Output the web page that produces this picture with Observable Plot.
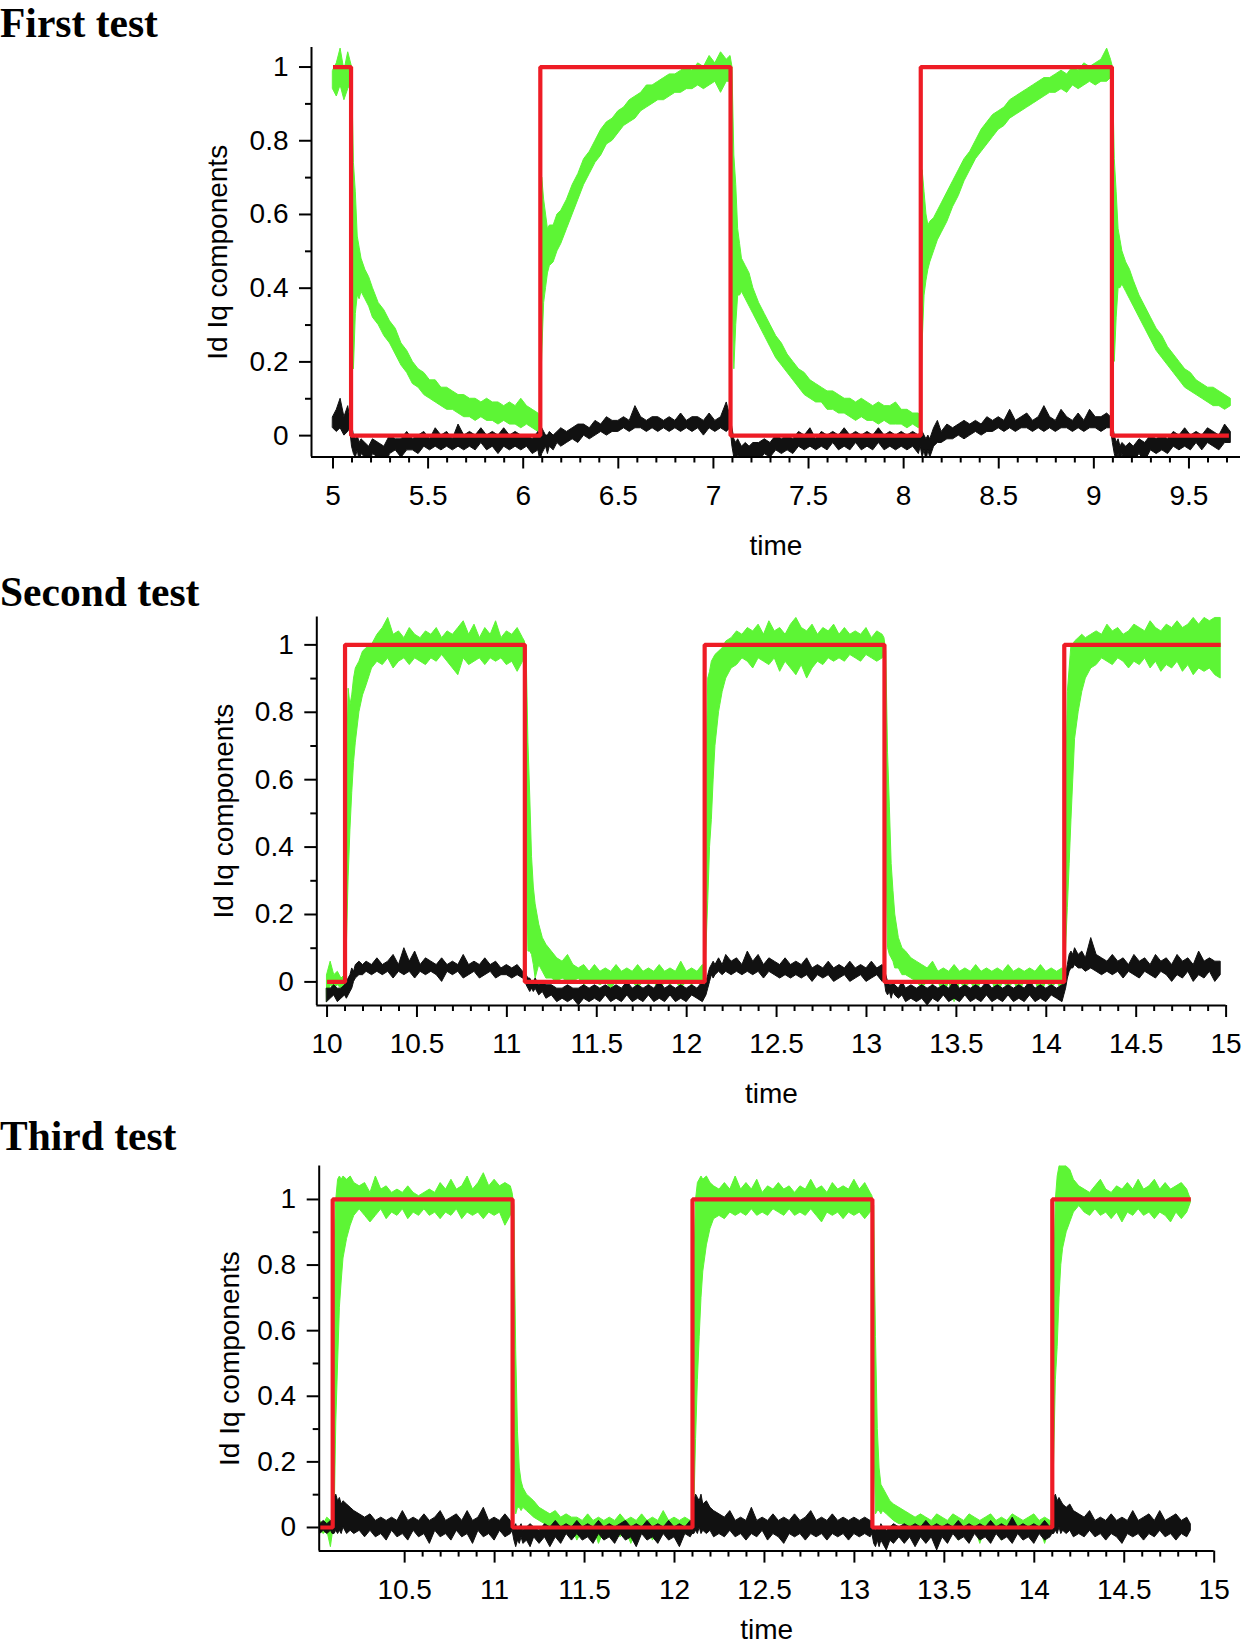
<!DOCTYPE html>
<html><head><meta charset="utf-8">
<script src="https://cdn.jsdelivr.net/npm/d3@7"></script>
<script src="https://cdn.jsdelivr.net/npm/@observablehq/plot@0.6"></script>
<style>
body{margin:0;background:#fff;}
#wrap{position:relative;width:1246px;height:1646px;overflow:hidden;background:#fff;}
.title{position:absolute;left:0;font-family:"Liberation Serif","Times New Roman",serif;font-weight:bold;font-size:41.5px;line-height:40px;white-space:nowrap;color:#000;}
</style></head><body><div id="wrap"></div>
<script>
// ---------- shared tick labels ----------
const yMajor = [0, 0.2, 0.4, 0.6, 0.8, 1];
const yMinor = [0.1, 0.3, 0.5, 0.7, 0.9];
const xMajor1 = [5, 5.5, 6, 6.5, 7, 7.5, 8, 8.5, 9, 9.5];
const xMajor2 = [10, 10.5, 11, 11.5, 12, 12.5, 13, 13.5, 14, 14.5, 15];
const xMajor3 = [10.5, 11, 11.5, 12, 12.5, 13, 13.5, 14, 14.5, 15];
const titles = ["First test", "Second test", "Third test"];

// ---------- First test ----------
const time1 = [
5.00,5.02,5.04,5.06,5.08,5.09,
5.10,5.11,5.12,5.13,5.14,5.15,5.17,5.19,5.21,
5.24,5.27,5.30,5.33,5.36,5.39,5.42,5.45,5.48,5.51,
5.54,5.57,5.60,5.63,5.66,5.69,5.72,5.75,5.78,5.81,
5.84,5.87,5.90,5.93,5.96,5.99,6.02,6.05,6.08,6.09,
6.10,6.11,6.12,6.13,6.14,6.16,6.18,6.20,6.23,6.26,
6.29,6.32,6.35,6.38,6.41,6.44,6.47,6.50,6.53,6.56,
6.59,6.62,6.65,6.68,6.71,6.74,6.77,6.80,6.83,6.86,
6.89,6.92,6.95,6.98,7.01,7.04,7.07,7.09,
7.10,7.11,7.12,7.13,7.14,7.15,7.17,7.19,7.21,
7.24,7.27,7.30,7.33,7.36,7.39,7.42,7.45,7.48,7.51,
7.54,7.57,7.60,7.63,7.66,7.69,7.72,7.75,7.78,7.81,
7.84,7.87,7.90,7.93,7.96,7.99,8.02,8.05,8.08,8.09,
8.10,8.11,8.12,8.13,8.14,8.16,8.18,8.20,8.23,8.26,
8.29,8.32,8.35,8.38,8.41,8.44,8.47,8.50,8.53,8.56,
8.59,8.62,8.65,8.68,8.71,8.74,8.77,8.80,8.83,8.86,
8.89,8.92,8.95,8.98,9.01,9.04,9.07,9.09,
9.10,9.11,9.12,9.13,9.14,9.15,9.17,9.19,9.21,
9.24,9.27,9.30,9.33,9.36,9.39,9.42,9.45,9.48,9.51,
9.54,9.57,9.60,9.63,9.66,9.69,9.72];
const iqLo1 = [
0.94,0.92,0.95,0.91,0.94,0.95,
0.42,0.18,0.33,0.38,0.37,0.39,0.37,0.35,0.32,
0.30,0.27,0.25,0.22,0.19,0.17,0.14,0.13,0.11,0.10,
0.09,0.08,0.07,0.07,0.06,0.05,0.05,0.04,0.05,0.04,
0.04,0.03,0.04,0.03,0.03,0.02,0.03,0.02,0.01,0.02,
0.22,0.36,0.40,0.44,0.46,0.47,0.50,0.52,0.56,0.60,
0.64,0.68,0.71,0.74,0.76,0.79,0.80,0.82,0.84,0.85,
0.86,0.88,0.89,0.90,0.91,0.91,0.92,0.93,0.93,0.94,
0.94,0.95,0.94,0.95,0.96,0.93,0.96,0.96,
0.40,0.18,0.30,0.38,0.38,0.39,0.37,0.35,0.33,
0.30,0.27,0.24,0.21,0.19,0.17,0.15,0.13,0.11,0.10,
0.09,0.09,0.07,0.07,0.06,0.06,0.05,0.04,0.05,0.04,
0.04,0.03,0.04,0.03,0.03,0.03,0.02,0.03,0.02,0.03,
0.25,0.38,0.42,0.45,0.47,0.50,0.53,0.55,0.58,0.62,
0.65,0.69,0.72,0.75,0.77,0.79,0.81,0.83,0.84,0.86,
0.87,0.88,0.89,0.90,0.91,0.92,0.93,0.93,0.94,0.93,
0.95,0.94,0.95,0.96,0.95,0.96,0.96,0.97,
0.45,0.20,0.32,0.40,0.40,0.41,0.39,0.37,0.35,
0.32,0.29,0.26,0.23,0.21,0.19,0.17,0.15,0.13,0.12,
0.11,0.10,0.09,0.08,0.08,0.07,0.08];
const iqHi1 = [
0.99,1.01,1.05,0.99,1.04,1.02,
1.00,0.74,0.66,0.54,0.51,0.48,0.45,0.43,0.40,
0.36,0.34,0.31,0.29,0.25,0.23,0.20,0.18,0.17,0.15,
0.15,0.13,0.13,0.12,0.11,0.11,0.10,0.10,0.09,0.10,
0.09,0.09,0.08,0.09,0.08,0.10,0.08,0.07,0.06,0.05,
0.70,0.64,0.60,0.56,0.57,0.57,0.60,0.61,0.64,0.68,
0.71,0.75,0.77,0.80,0.83,0.85,0.86,0.88,0.89,0.91,
0.92,0.93,0.95,0.95,0.96,0.97,0.98,0.98,0.99,1.00,
0.99,1.01,1.00,1.03,1.01,1.04,1.02,1.03,
1.00,0.76,0.68,0.56,0.52,0.48,0.46,0.44,0.40,
0.36,0.33,0.30,0.27,0.25,0.22,0.20,0.18,0.17,0.15,
0.14,0.13,0.12,0.12,0.11,0.10,0.10,0.09,0.10,0.09,
0.08,0.09,0.08,0.08,0.09,0.07,0.07,0.06,0.06,0.05,
0.72,0.66,0.60,0.57,0.58,0.59,0.61,0.63,0.66,0.69,
0.72,0.75,0.77,0.80,0.83,0.85,0.87,0.88,0.89,0.91,
0.92,0.93,0.94,0.95,0.96,0.97,0.97,0.98,0.99,0.98,
1.00,0.99,1.01,1.00,1.01,1.02,1.05,1.02,
1.00,0.75,0.66,0.56,0.53,0.50,0.47,0.45,0.42,
0.38,0.35,0.32,0.29,0.27,0.24,0.22,0.20,0.18,0.17,
0.15,0.14,0.13,0.13,0.12,0.11,0.10];
const idLo1 = [
0.02,0.01,0.02,0.00,0.01,0.02,
-0.03,-0.05,-0.06,-0.04,-0.07,-0.05,-0.06,-0.08,-0.05,
-0.06,-0.09,-0.05,-0.04,-0.06,-0.04,-0.04,-0.05,-0.03,-0.04,
-0.03,-0.04,-0.03,-0.04,-0.03,-0.04,-0.03,-0.04,-0.02,-0.04,
-0.03,-0.05,-0.03,-0.04,-0.03,-0.04,-0.03,-0.05,-0.04,-0.07,
-0.05,-0.04,-0.03,-0.05,-0.03,-0.04,-0.02,-0.03,-0.02,-0.01,
-0.02,0.00,-0.01,0.00,0.01,0.00,0.01,0.01,0.02,0.01,
0.02,0.02,0.01,0.02,0.01,0.02,0.01,0.02,0.01,0.02,
0.01,0.02,0.00,0.02,0.01,0.02,0.01,0.02,
-0.03,-0.06,-0.08,-0.05,-0.07,-0.09,-0.06,-0.08,-0.06,
-0.07,-0.05,-0.06,-0.04,-0.05,-0.04,-0.05,-0.03,-0.04,-0.03,
-0.04,-0.03,-0.04,-0.02,-0.04,-0.03,-0.04,-0.02,-0.04,-0.03,
-0.04,-0.02,-0.04,-0.03,-0.04,-0.03,-0.04,-0.03,-0.05,-0.03,
-0.06,-0.04,-0.07,-0.04,-0.06,-0.03,-0.02,-0.02,-0.01,-0.01,
0.00,-0.01,0.00,0.01,0.00,0.01,0.01,0.02,0.01,0.02,
0.01,0.02,0.02,0.01,0.02,0.01,0.02,0.01,0.02,0.02,
0.01,0.02,0.01,0.02,0.02,0.01,0.02,0.02,
-0.02,-0.05,-0.07,-0.05,-0.07,-0.05,-0.08,-0.06,-0.07,
-0.05,-0.07,-0.04,-0.05,-0.04,-0.05,-0.03,-0.04,-0.03,-0.04,
-0.02,-0.04,-0.02,-0.03,-0.04,-0.02,-0.02];
const idHi1 = [
0.05,0.07,0.10,0.05,0.08,0.05,
0.03,0.00,-0.01,0.00,-0.02,-0.01,-0.02,-0.03,-0.01,
-0.02,-0.03,0.00,-0.01,-0.01,0.01,-0.01,0.00,0.01,-0.01,
0.02,0.00,0.01,-0.01,0.03,0.00,0.01,0.00,0.02,0.00,
0.01,0.00,0.02,0.00,0.01,0.00,0.00,-0.01,0.01,0.00,
0.02,0.01,0.00,0.00,0.01,0.00,0.01,0.02,0.01,0.02,
0.03,0.03,0.02,0.04,0.03,0.05,0.04,0.04,0.05,0.04,
0.08,0.05,0.04,0.05,0.05,0.04,0.05,0.04,0.06,0.04,
0.05,0.05,0.04,0.06,0.04,0.05,0.09,0.05,
0.02,-0.01,-0.02,-0.01,-0.02,-0.03,-0.02,-0.03,-0.02,
-0.02,-0.01,-0.02,0.00,-0.01,0.00,-0.01,0.01,0.00,0.02,
-0.01,0.01,0.00,0.01,0.00,0.02,0.00,0.01,0.00,0.01,
0.00,0.02,0.00,0.01,0.00,0.01,0.00,0.01,0.00,0.01,
0.01,0.00,-0.01,0.00,-0.01,0.02,0.04,0.01,0.03,0.02,
0.03,0.04,0.03,0.04,0.03,0.05,0.04,0.05,0.04,0.07,
0.04,0.05,0.06,0.04,0.05,0.08,0.05,0.04,0.07,0.05,
0.04,0.06,0.04,0.07,0.05,0.05,0.06,0.05,
0.03,0.00,-0.02,-0.01,-0.03,-0.02,-0.03,-0.02,-0.03,
-0.01,-0.02,0.00,-0.01,0.00,-0.01,0.01,0.00,0.02,0.00,
0.01,0.00,0.02,0.01,0.00,0.03,0.01];
const refT1 = [5.0, 5.095, 6.09, 7.09, 8.09, 9.095, 9.71];
const refY1 = [1, 0, 1, 0, 1, 0, 0];

// ---------- Second test ----------
const time2 = [
10.00,10.02,10.04,10.06,10.08,10.10,
10.11,10.12,10.13,10.14,10.15,10.16,10.18,10.20,10.22,10.25,
10.28,10.31,10.34,10.37,10.40,10.43,10.46,10.49,10.52,10.55,
10.58,10.61,10.64,10.67,10.70,10.73,10.76,10.79,10.82,10.85,
10.88,10.91,10.94,10.97,11.00,11.03,11.06,11.09,11.10,
11.11,11.12,11.13,11.14,11.15,11.16,11.18,11.20,11.22,11.25,
11.28,11.31,11.34,11.37,11.40,11.43,11.46,11.49,11.52,11.55,
11.58,11.61,11.64,11.67,11.70,11.73,11.76,11.79,11.82,11.85,
11.88,11.91,11.94,11.97,12.00,12.03,12.06,12.09,12.10,
12.11,12.12,12.13,12.14,12.15,12.16,12.18,12.20,12.22,12.25,
12.28,12.31,12.34,12.37,12.40,12.43,12.46,12.49,12.52,12.55,
12.58,12.61,12.64,12.67,12.70,12.73,12.76,12.79,12.82,12.85,
12.88,12.91,12.94,12.97,13.00,13.03,13.06,13.09,13.10,
13.11,13.12,13.13,13.14,13.15,13.16,13.18,13.20,13.22,13.25,
13.28,13.31,13.34,13.37,13.40,13.43,13.46,13.49,13.52,13.55,
13.58,13.61,13.64,13.67,13.70,13.73,13.76,13.79,13.82,13.85,
13.88,13.91,13.94,13.97,14.00,14.03,14.06,14.09,14.10,
14.11,14.12,14.13,14.14,14.15,14.16,14.18,14.20,14.22,14.25,
14.28,14.31,14.34,14.37,14.40,14.43,14.46,14.49,14.52,14.55,
14.58,14.61,14.64,14.67,14.70,14.73,14.76,14.79,14.82,14.85,
14.88,14.91,14.94,14.97];
const iqLo2 = [
-0.06,-0.01,-0.02,-0.01,-0.02,-0.01,
0.10,0.31,0.45,0.56,0.65,0.71,0.80,0.85,0.88,0.93,
0.95,0.94,0.96,0.93,0.95,0.96,0.94,0.96,0.95,0.94,
0.96,0.95,0.97,0.95,0.93,0.91,0.96,0.94,0.95,0.96,
0.94,0.96,0.95,0.96,0.94,0.95,0.92,0.95,0.96,
0.40,0.09,0.09,0.08,0.05,0.01,0.05,0.03,0.01,0.01,
0.00,0.01,0.00,0.00,0.01,-0.01,0.00,0.00,-0.01,0.00,
-0.02,0.00,0.00,-0.01,0.00,-0.02,0.00,-0.01,0.00,-0.03,
0.00,-0.01,0.00,-0.02,0.00,-0.01,0.00,-0.01,0.00,
0.10,0.24,0.40,0.48,0.60,0.70,0.80,0.86,0.90,0.93,
0.94,0.96,0.95,0.93,0.96,0.95,0.94,0.96,0.92,0.95,
0.93,0.91,0.94,0.90,0.93,0.95,0.94,0.96,0.95,0.96,
0.95,0.97,0.96,0.95,0.97,0.96,0.95,0.96,0.97,
0.40,0.10,0.08,0.07,0.06,0.04,0.04,0.02,0.02,0.01,
0.00,-0.02,0.00,-0.01,0.00,-0.04,0.00,-0.06,0.00,-0.02,
0.00,-0.03,0.00,-0.01,0.00,-0.04,0.00,-0.02,0.00,-0.03,
0.00,-0.02,0.00,-0.04,0.00,-0.02,0.00,-0.03,0.00,
0.10,0.22,0.35,0.48,0.60,0.72,0.80,0.86,0.90,0.93,
0.94,0.96,0.95,0.94,0.96,0.95,0.93,0.95,0.94,0.96,
0.93,0.95,0.92,0.94,0.93,0.95,0.92,0.94,0.91,0.93,
0.92,0.93,0.91,0.90];
const iqHi2 = [
0.02,0.06,0.02,0.03,0.01,0.02,
0.60,0.87,0.82,0.85,0.90,0.93,0.95,0.98,0.99,1.00,
1.03,1.05,1.08,1.03,1.04,1.02,1.05,1.03,1.02,1.04,
1.03,1.05,1.02,1.04,1.03,1.05,1.07,1.03,1.06,1.02,
1.05,1.03,1.07,1.02,1.04,1.03,1.05,1.02,1.01,
0.98,0.71,0.55,0.37,0.28,0.23,0.17,0.13,0.11,0.09,
0.07,0.06,0.08,0.05,0.04,0.05,0.03,0.05,0.03,0.04,
0.03,0.05,0.03,0.04,0.03,0.05,0.03,0.04,0.03,0.05,
0.03,0.04,0.03,0.06,0.03,0.04,0.03,0.05,0.03,
0.62,0.90,0.92,0.95,0.96,0.97,0.98,0.99,1.01,1.02,
1.04,1.03,1.05,1.04,1.06,1.03,1.07,1.04,1.05,1.03,
1.06,1.08,1.05,1.04,1.06,1.03,1.05,1.04,1.06,1.03,
1.05,1.03,1.04,1.03,1.05,1.02,1.04,1.03,1.02,
0.98,0.68,0.52,0.35,0.27,0.20,0.13,0.10,0.09,0.07,
0.06,0.05,0.04,0.06,0.03,0.04,0.03,0.05,0.03,0.04,
0.03,0.05,0.03,0.04,0.03,0.04,0.03,0.05,0.03,0.04,
0.03,0.04,0.03,0.05,0.03,0.04,0.03,0.04,0.03,
0.55,0.86,0.93,1.00,1.00,1.01,1.02,1.03,1.02,1.03,
1.04,1.03,1.06,1.04,1.05,1.03,1.04,1.06,1.05,1.04,
1.07,1.05,1.04,1.06,1.05,1.07,1.05,1.06,1.08,1.06,
1.08,1.07,1.08,1.08];
const idLo2 = [
-0.06,-0.05,-0.04,-0.06,-0.05,-0.04,
-0.05,-0.04,-0.03,-0.02,0.00,0.01,0.02,0.02,0.03,0.02,
0.03,0.02,0.03,0.01,0.03,0.02,0.03,0.01,0.03,0.02,
0.03,0.02,0.00,0.03,0.02,0.03,0.01,0.02,0.03,0.01,
0.02,0.03,0.01,0.02,0.02,0.01,0.02,0.01,0.01,
-0.01,-0.02,-0.03,-0.02,-0.03,-0.02,-0.04,-0.03,-0.05,-0.04,
-0.06,-0.05,-0.06,-0.05,-0.07,-0.05,-0.06,-0.05,-0.06,-0.04,
-0.06,-0.05,-0.06,-0.04,-0.06,-0.05,-0.06,-0.04,-0.06,-0.05,
-0.06,-0.04,-0.06,-0.05,-0.06,-0.04,-0.05,-0.06,-0.05,
-0.04,-0.02,0.00,0.02,0.01,0.02,0.03,0.02,0.03,0.02,
0.03,0.02,0.03,0.02,0.03,0.01,0.03,0.02,0.01,0.02,
0.01,0.02,0.01,0.02,0.00,0.02,0.01,0.02,0.00,0.01,
0.02,0.00,0.01,0.02,0.00,0.01,0.02,0.00,0.01,
-0.03,-0.04,-0.03,-0.05,-0.03,-0.04,-0.05,-0.04,-0.06,-0.05,
-0.06,-0.05,-0.07,-0.05,-0.06,-0.04,-0.06,-0.05,-0.06,-0.04,
-0.06,-0.05,-0.06,-0.04,-0.06,-0.05,-0.06,-0.04,-0.06,-0.05,
-0.06,-0.04,-0.06,-0.05,-0.06,-0.04,-0.05,-0.06,-0.04,
-0.02,0.01,0.03,0.04,0.04,0.05,0.04,0.04,0.03,0.04,
0.03,0.02,0.03,0.02,0.03,0.01,0.03,0.02,0.01,0.03,
0.02,0.01,0.03,0.02,0.00,0.02,0.01,0.03,0.00,0.02,
0.01,0.03,0.00,0.02];
const idHi2 = [
-0.02,-0.02,-0.01,-0.02,-0.02,-0.01,
0.00,0.01,0.02,0.04,0.03,0.05,0.06,0.05,0.06,0.05,
0.07,0.05,0.06,0.08,0.05,0.10,0.06,0.09,0.05,0.07,
0.06,0.05,0.07,0.05,0.06,0.05,0.08,0.05,0.06,0.05,
0.07,0.05,0.06,0.04,0.05,0.04,0.05,0.03,0.03,
0.02,0.01,0.01,0.00,0.00,0.01,-0.01,0.00,-0.01,-0.01,
-0.02,-0.02,-0.01,-0.02,-0.02,-0.01,-0.02,-0.01,-0.02,-0.01,
-0.02,-0.01,-0.02,0.00,-0.02,-0.01,-0.02,-0.01,-0.02,0.00,
-0.02,-0.01,-0.02,-0.01,-0.02,-0.01,-0.02,0.00,-0.01,
0.00,0.02,0.04,0.05,0.06,0.05,0.07,0.05,0.08,0.06,
0.07,0.05,0.09,0.06,0.08,0.05,0.07,0.06,0.05,0.07,
0.05,0.06,0.05,0.07,0.04,0.05,0.04,0.06,0.04,0.05,
0.04,0.06,0.04,0.05,0.04,0.06,0.04,0.05,0.04,
0.02,0.00,-0.01,-0.01,0.00,-0.01,-0.02,0.00,-0.02,-0.01,
-0.02,-0.01,-0.02,-0.01,-0.02,-0.01,-0.02,0.00,-0.02,-0.01,
-0.02,-0.01,-0.02,0.00,-0.02,-0.01,-0.02,-0.01,-0.02,-0.01,
-0.02,0.00,-0.02,-0.01,-0.02,-0.01,-0.02,-0.01,-0.01,
0.02,0.05,0.08,0.09,0.08,0.10,0.08,0.09,0.07,0.13,
0.08,0.07,0.06,0.08,0.06,0.07,0.05,0.08,0.06,0.07,
0.05,0.08,0.06,0.07,0.05,0.08,0.06,0.07,0.05,0.09,
0.06,0.07,0.06,0.06];
const refT2 = [10.0, 10.1, 11.1, 12.1, 13.1, 14.1, 14.97];
const refY2 = [0, 1, 0, 1, 0, 1, 1];

// ---------- Third test ----------
const time3 = [
10.03,10.05,10.07,10.09,10.10,
10.11,10.12,10.13,10.14,10.15,10.16,10.18,10.20,10.22,10.25,
10.28,10.31,10.34,10.37,10.40,10.43,10.46,10.49,10.52,10.55,
10.58,10.61,10.64,10.67,10.70,10.73,10.76,10.79,10.82,10.85,
10.88,10.91,10.94,10.97,11.00,11.03,11.06,11.09,11.10,
11.11,11.12,11.13,11.14,11.15,11.16,11.18,11.20,11.22,11.25,
11.28,11.31,11.34,11.37,11.40,11.43,11.46,11.49,11.52,11.55,
11.58,11.61,11.64,11.67,11.70,11.73,11.76,11.79,11.82,11.85,
11.88,11.91,11.94,11.97,12.00,12.03,12.06,12.09,12.10,
12.11,12.12,12.13,12.14,12.15,12.16,12.18,12.20,12.22,12.25,
12.28,12.31,12.34,12.37,12.40,12.43,12.46,12.49,12.52,12.55,
12.58,12.61,12.64,12.67,12.70,12.73,12.76,12.79,12.82,12.85,
12.88,12.91,12.94,12.97,13.00,13.03,13.06,13.09,13.10,
13.11,13.12,13.13,13.14,13.15,13.16,13.18,13.20,13.22,13.25,
13.28,13.31,13.34,13.37,13.40,13.43,13.46,13.49,13.52,13.55,
13.58,13.61,13.64,13.67,13.70,13.73,13.76,13.79,13.82,13.85,
13.88,13.91,13.94,13.97,14.00,14.03,14.06,14.09,14.10,
14.11,14.12,14.13,14.14,14.15,14.16,14.18,14.20,14.22,14.25,
14.28,14.31,14.34,14.37,14.40,14.43,14.46,14.49,14.52,14.55,
14.58,14.61,14.64,14.67,14.70,14.73,14.76,14.79,14.82,14.85,
14.87];
const iqLo3 = [
-0.01,-0.02,-0.01,-0.06,-0.02,
0.00,0.32,0.50,0.67,0.75,0.82,0.88,0.92,0.95,0.97,
0.95,0.93,0.95,0.97,0.94,0.96,0.95,0.97,0.94,0.96,
0.95,0.97,0.95,0.96,0.94,0.96,0.95,0.97,0.94,0.96,
0.95,0.96,0.94,0.96,0.95,0.96,0.92,0.95,0.96,
0.30,0.04,0.06,0.06,0.05,0.06,0.05,0.04,0.03,0.02,
0.01,0.00,-0.01,0.00,-0.02,0.00,-0.04,-0.01,-0.02,0.00,
-0.05,-0.01,-0.02,0.00,-0.03,-0.01,-0.05,-0.01,-0.02,0.00,
-0.04,-0.01,-0.02,0.00,-0.03,-0.01,-0.02,-0.01,0.00,
0.05,0.27,0.45,0.58,0.70,0.78,0.86,0.91,0.94,0.95,
0.94,0.96,0.95,0.96,0.95,0.97,0.95,0.96,0.95,0.97,
0.96,0.95,0.97,0.95,0.96,0.95,0.97,0.95,0.93,0.96,
0.95,0.96,0.94,0.96,0.95,0.96,0.94,0.96,0.97,
0.30,0.04,0.05,0.05,0.04,0.05,0.04,0.03,0.02,0.01,
0.01,-0.01,0.00,-0.03,0.00,-0.01,-0.06,0.00,-0.02,0.00,
-0.04,0.00,-0.02,0.00,-0.05,0.00,-0.02,0.00,-0.04,0.00,
-0.02,0.00,-0.03,0.00,-0.02,0.00,-0.05,0.00,0.00,
0.20,0.45,0.55,0.70,0.80,0.85,0.90,0.93,0.96,0.98,
0.96,0.95,0.97,0.95,0.96,0.94,0.96,0.93,0.96,0.95,
0.97,0.95,0.96,0.94,0.96,0.95,0.93,0.96,0.94,0.96,
0.99];
const iqHi3 = [
0.02,0.01,0.03,0.02,0.01,
0.85,1.00,1.06,1.07,1.06,1.07,1.06,1.07,1.05,1.04,
1.05,1.02,1.07,1.03,1.04,1.02,1.03,1.02,1.04,1.02,
1.01,1.02,1.03,1.02,1.05,1.03,1.06,1.03,1.04,1.07,
1.03,1.05,1.08,1.04,1.06,1.04,1.05,1.04,1.02,
0.98,0.54,0.29,0.18,0.14,0.12,0.10,0.09,0.08,0.06,
0.05,0.04,0.05,0.03,0.04,0.03,0.03,0.02,0.04,0.02,
0.03,0.02,0.03,0.02,0.04,0.02,0.03,0.02,0.04,0.02,
0.03,0.02,0.05,0.02,0.03,0.02,0.03,0.02,0.02,
0.80,1.00,1.05,1.06,1.07,1.06,1.07,1.05,1.04,1.03,
1.05,1.03,1.07,1.03,1.05,1.03,1.06,1.02,1.04,1.03,
1.05,1.03,1.04,1.02,1.04,1.03,1.06,1.03,1.04,1.02,
1.05,1.03,1.04,1.03,1.06,1.03,1.05,1.02,1.01,
0.98,0.58,0.30,0.18,0.13,0.12,0.10,0.08,0.07,0.06,
0.05,0.04,0.03,0.04,0.03,0.02,0.04,0.03,0.02,0.04,
0.03,0.02,0.04,0.03,0.02,0.03,0.04,0.02,0.03,0.02,
0.04,0.03,0.02,0.03,0.04,0.02,0.03,0.02,0.02,
0.75,1.00,1.07,1.10,1.11,1.11,1.10,1.09,1.06,1.04,
1.03,1.02,1.04,1.06,1.03,1.02,1.04,1.03,1.05,1.03,
1.06,1.03,1.04,1.06,1.03,1.05,1.03,1.04,1.05,1.03,
1.00];
const idLo3 = [
-0.02,-0.01,-0.02,-0.01,-0.02,
-0.02,-0.01,-0.02,-0.01,-0.02,0.00,-0.02,-0.01,-0.02,-0.01,
-0.03,-0.01,-0.03,-0.02,-0.04,-0.01,-0.03,-0.02,-0.04,-0.01,
-0.03,-0.02,-0.05,-0.01,-0.03,-0.02,-0.04,-0.01,-0.03,-0.02,
-0.05,-0.01,-0.03,-0.02,-0.04,-0.01,-0.03,-0.02,-0.01,
-0.04,-0.06,-0.04,-0.05,-0.03,-0.05,-0.04,-0.06,-0.03,-0.05,
-0.03,-0.06,-0.03,-0.05,-0.02,-0.04,-0.02,-0.04,-0.03,-0.05,
-0.02,-0.04,-0.03,-0.05,-0.02,-0.04,-0.03,-0.06,-0.02,-0.04,
-0.03,-0.05,-0.02,-0.04,-0.03,-0.06,-0.02,-0.03,-0.02,
-0.02,-0.01,-0.02,0.00,-0.02,-0.01,-0.02,-0.01,-0.03,-0.02,
-0.03,-0.01,-0.03,-0.02,-0.04,-0.02,-0.03,-0.01,-0.04,-0.02,
-0.03,-0.05,-0.02,-0.03,-0.02,-0.04,-0.02,-0.03,-0.02,-0.04,
-0.02,-0.03,-0.02,-0.04,-0.02,-0.03,-0.02,-0.03,-0.02,
-0.05,-0.06,-0.04,-0.06,-0.04,-0.05,-0.07,-0.04,-0.05,-0.03,
-0.05,-0.03,-0.06,-0.03,-0.05,-0.03,-0.07,-0.03,-0.05,-0.02,
-0.04,-0.03,-0.05,-0.02,-0.04,-0.03,-0.05,-0.02,-0.04,-0.03,
-0.05,-0.02,-0.04,-0.03,-0.05,-0.02,-0.04,-0.03,-0.02,
-0.02,-0.01,-0.02,0.00,-0.02,-0.01,-0.02,-0.01,-0.03,-0.02,
-0.03,-0.01,-0.03,-0.02,-0.04,-0.02,-0.03,-0.05,-0.02,-0.03,
-0.02,-0.04,-0.02,-0.03,-0.01,-0.03,-0.02,-0.04,-0.02,-0.03,
-0.01];
const idHi3 = [
0.01,0.02,0.01,0.02,0.01,
0.09,0.10,0.08,0.09,0.07,0.08,0.07,0.06,0.05,0.04,
0.03,0.04,0.02,0.03,0.02,0.03,0.02,0.05,0.02,0.03,
0.02,0.04,0.02,0.03,0.05,0.02,0.03,0.04,0.02,0.05,
0.02,0.03,0.06,0.02,0.03,0.02,0.04,0.02,0.01,
0.00,0.01,-0.01,0.00,0.01,-0.01,0.00,0.01,0.00,-0.01,
0.01,0.00,0.02,0.00,0.01,0.00,0.02,0.00,0.01,0.00,
0.02,0.00,0.01,0.00,0.01,0.02,0.00,0.01,0.00,0.02,
0.00,0.01,0.00,0.02,0.00,0.01,0.00,0.02,0.01,
0.08,0.10,0.09,0.08,0.10,0.07,0.08,0.06,0.05,0.04,
0.03,0.05,0.02,0.03,0.02,0.06,0.02,0.03,0.02,0.04,
0.02,0.03,0.02,0.04,0.02,0.03,0.05,0.02,0.03,0.02,
0.04,0.02,0.03,0.02,0.03,0.02,0.03,0.02,0.02,
0.00,-0.01,0.00,-0.01,0.01,0.00,-0.01,0.00,0.01,0.00,
0.01,0.00,0.01,0.00,0.02,0.00,0.01,0.00,0.01,0.00,
0.02,0.00,0.01,0.00,0.01,0.00,0.02,0.00,0.01,0.00,
0.03,0.00,0.01,0.00,0.01,0.00,0.02,0.00,0.01,
0.09,0.10,0.08,0.09,0.08,0.07,0.06,0.07,0.05,0.04,
0.03,0.05,0.02,0.03,0.02,0.04,0.02,0.03,0.02,0.05,
0.02,0.03,0.04,0.02,0.05,0.02,0.03,0.04,0.02,0.03,
0.01];
const refT3 = [10.03, 10.1, 11.1, 12.1, 13.1, 14.1, 14.87];
const refY3 = [0, 1, 0, 1, 0, 1, 1];

// ---------- drawing ----------
const GREEN = "#5df535";
const RED = "#ee1c25";
const INK = "#111111";
const FS = 28;

const panels = [
  {title: titles[0], titleTop: 3, top: 0, height: 560, mt: 47, mb: 103.5, ml: 311, mr: 6,
   xd: [4.887, 9.771], yd: [-0.058, 1.053], xMajor: xMajor1, minorFrom: 51, minorTo: 97,
   yLabDx: -93.5, xLabDy: 89,
   t: time1, gLo: iqLo1, gHi: iqHi1, kLo: idLo1, kHi: idHi1, rT: refT1, rY: refY1},
  {title: titles[1], titleTop: 572, top: 560, height: 560, mt: 56.4, mb: 115, ml: 316.3, mr: 20.4,
   xd: [9.943, 15], yd: [-0.070, 1.083], xMajor: xMajor2, minorFrom: 101, minorTo: 149,
   yLabDx: -93, xLabDy: 89,
   t: time2, gLo: iqLo2, gHi: iqHi2, kLo: idLo2, kHi: idHi2, rT: refT2, rY: refY2},
  {title: titles[2], titleTop: 1116, top: 1120, height: 526, mt: 45.5, mb: 95.4, ml: 318.7, mr: 32.3,
   xd: [10.025, 15], yd: [-0.072, 1.102], xMajor: xMajor3, minorFrom: 106, minorTo: 149,
   yLabDx: -89.4, xLabDy: 79,
   t: time3, gLo: iqLo3, gHi: iqHi3, kLo: idLo3, kHi: idHi3, rT: refT3, rY: refY3}
];

const wrap = document.getElementById("wrap");

for (const p of panels) {
  for (const k of ["gLo", "gHi", "kLo", "kHi"]) {
    if (p[k].length !== p.t.length) throw new Error(p.title + " " + k + " length " + p[k].length + " vs " + p.t.length);
  }
  const iq = p.t.map((t, i) => ({t, lo: p.gLo[i], hi: p.gHi[i]}));
  const id = p.t.map((t, i) => ({t, lo: p.kLo[i], hi: p.kHi[i]}));
  const ref = p.rT.map((t, i) => ({t, v: p.rY[i]}));
  const xMinor = d3.range(p.minorFrom, p.minorTo + 1).filter(i => i % 5 !== 0).map(i => i / 10);

  const svg = Plot.plot({
    width: 1246, height: p.height,
    marginTop: p.mt, marginBottom: p.mb, marginLeft: p.ml, marginRight: p.mr,
    x: {domain: p.xd},
    y: {domain: p.yd},
    style: {fontFamily: "'Liberation Sans', Arial, sans-serif", fontSize: FS + "px", color: "#000", background: "transparent", overflow: "visible"},
    marks: [
      Plot.areaY(iq, {x: "t", y1: "lo", y2: "hi", fill: GREEN, stroke: GREEN, strokeWidth: 1, clip: true}),
      Plot.areaY(id, {x: "t", y1: "lo", y2: "hi", fill: INK, stroke: INK, strokeWidth: 1, clip: true}),
      Plot.line(ref, {x: "t", y: "v", curve: "step-after", stroke: RED, strokeWidth: 4.2, strokeLinejoin: "miter", strokeLinecap: "butt"}),
      Plot.ruleX([p.xd[0]], {stroke: "#000", strokeWidth: 2}),
      Plot.ruleY([p.yd[0]], {stroke: "#000", strokeWidth: 2}),
      Plot.axisX({ticks: p.xMajor, tickSize: 12, tickPadding: 16, tickFormat: d => String(d), strokeWidth: 2, fontSize: FS, label: null}),
      Plot.axisX({ticks: xMinor, tickSize: 6, tickFormat: () => "", strokeWidth: 2, label: null}),
      Plot.axisY({ticks: yMajor, tickSize: 12, tickPadding: 11, tickFormat: d => String(d), strokeWidth: 2, fontSize: FS, label: null}),
      Plot.axisY({ticks: yMinor, tickSize: 6, tickFormat: () => "", strokeWidth: 2, label: null}),
      Plot.text(["Id Iq components"], {frameAnchor: "left", dx: p.yLabDx, rotate: -90, textAnchor: "middle", lineAnchor: "middle", text: d => d, fontSize: FS, fill: "#000"}),
      Plot.text(["time"], {frameAnchor: "bottom", dy: p.xLabDy, textAnchor: "middle", lineAnchor: "middle", text: d => d, fontSize: FS, fill: "#000"})
    ]
  });
  svg.style.position = "absolute";
  svg.style.left = "0px";
  svg.style.top = p.top + "px";
  wrap.appendChild(svg);

  const tt = document.createElement("div");
  tt.className = "title";
  tt.style.top = p.titleTop + "px";
  tt.textContent = p.title;
  wrap.appendChild(tt);
}
</script></body></html>
